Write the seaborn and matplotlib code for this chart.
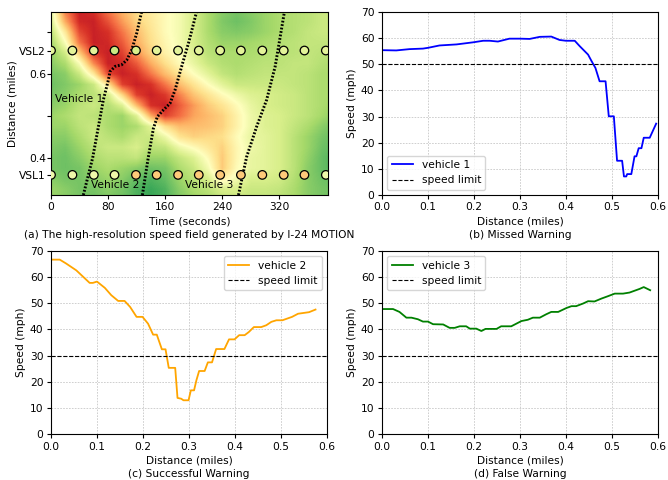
import numpy as np
import pandas as pd
import matplotlib
matplotlib.use("Agg")
import matplotlib.pyplot as plt
import seaborn as sns

# ---------------- data ----------------
# speed field (mph): rows = distance 0.75 -> 0.30 (step 0.025), cols = time 0 -> 400 s (step 20)
field_times = list(range(0, 401, 20))
field_dists = [0.75, 0.725, 0.70, 0.675, 0.65, 0.625, 0.60, 0.575, 0.55, 0.525,
               0.50, 0.475, 0.45, 0.425, 0.40, 0.375, 0.35, 0.325, 0.30]
speed_field = [
    [40, 16, 5, 7, 15, 22, 28, 31, 34, 37, 42, 48, 52, 54, 52, 50, 48, 47, 46, 44, 44],
    [42, 21, 6, 5, 11, 19, 26, 30, 34, 37, 42, 48, 53, 55, 53, 50, 48, 47, 46, 44, 44],
    [46, 30, 10, 5, 7, 15, 23, 29, 34, 37, 42, 48, 52, 53, 52, 50, 48, 47, 45, 44, 44],
    [49, 36, 15, 5, 6, 12, 21, 28, 33, 37, 42, 47, 50, 50, 49, 48, 47, 46, 45, 45, 45],
    [51, 43, 25, 8, 5, 9, 18, 26, 32, 36, 41, 46, 48, 48, 48, 47, 46, 46, 45, 46, 46],
    [52, 48, 36, 17, 5, 6, 12, 21, 28, 34, 39, 44, 47, 48, 47, 46, 46, 45, 45, 47, 48],
    [54, 52, 44, 30, 10, 5, 7, 15, 23, 29, 35, 40, 45, 47, 46, 45, 45, 45, 46, 48, 48],
    [55, 53, 50, 44, 29, 9, 5, 7, 15, 23, 29, 35, 40, 44, 44, 44, 44, 45, 46, 48, 48],
    [54, 52, 48, 46, 43, 27, 9, 5, 8, 16, 24, 29, 34, 38, 41, 42, 43, 44, 46, 48, 48],
    [52, 50, 46, 44, 47, 41, 23, 7, 5, 12, 19, 25, 29, 34, 39, 42, 43, 44, 46, 48, 50],
    [50, 48, 45, 46, 48, 50, 41, 21, 9, 14, 20, 23, 26, 32, 38, 41, 42, 44, 46, 49, 52],
    [50, 50, 46, 44, 48, 50, 48, 40, 28, 23, 23, 24, 26, 32, 38, 41, 42, 45, 48, 52, 55],
    [52, 52, 48, 44, 46, 48, 44, 44, 38, 29, 26, 27, 28, 34, 39, 40, 42, 46, 50, 54, 56],
    [53, 54, 50, 46, 44, 44, 42, 46, 45, 38, 34, 30, 26, 33, 38, 40, 42, 46, 50, 55, 57],
    [54, 55, 52, 48, 46, 46, 45, 50, 50, 45, 41, 34, 25, 33, 39, 40, 42, 46, 51, 56, 58],
    [54, 55, 54, 50, 48, 50, 52, 55, 54, 48, 44, 37, 25, 34, 39, 40, 42, 46, 52, 56, 58],
    [52, 54, 54, 52, 50, 52, 56, 58, 56, 50, 46, 42, 32, 37, 42, 42, 43, 47, 52, 55, 56],
    [50, 52, 54, 54, 52, 54, 58, 60, 58, 52, 48, 46, 42, 42, 44, 44, 45, 48, 52, 54, 55],
    [50, 52, 54, 55, 53, 55, 58, 60, 58, 53, 50, 48, 45, 44, 45, 45, 46, 48, 52, 54, 55],
]

# VSL sign locations and displayed speeds
vsl_times = [0, 30, 60, 89, 119, 148, 178, 207, 237, 266, 296, 326, 355, 385]
vsl1_pos = 0.359
vsl2_pos = 0.656
vsl1_speed = [38, 38, 38, 38, 25, 25, 25, 25, 25, 25, 25, 25, 25, 38]
vsl2_speed = [40, 40, 40, 44, 42, 40, 40, 40, 40, 40, 40, 40, 40, 40]

# vehicle trajectories (time s, distance miles)
traj1_t = [45.3, 58.4, 73.3, 80.4, 82.7, 89.7, 99, 106, 113, 120, 127]
traj1_d = [0.311, 0.4, 0.538, 0.586, 0.606, 0.618, 0.622, 0.633, 0.657, 0.697, 0.749]
traj2_t = [128, 136, 143.4, 149, 157.4, 166.8, 173.8, 183, 192.5, 204]
traj2_d = [0.311, 0.398, 0.47, 0.498, 0.514, 0.53, 0.562, 0.618, 0.673, 0.749]
traj3_t = [262.6, 274, 288, 302, 314, 327]
traj3_d = [0.311, 0.402, 0.474, 0.538, 0.618, 0.749]

# speed profiles
v1_dist = [0.0, 0.031, 0.06, 0.089, 0.1, 0.125, 0.162, 0.198, 0.22, 0.234, 0.252, 0.277, 0.3, 0.321,
           0.343, 0.368, 0.386, 0.4, 0.419, 0.43, 0.448, 0.455, 0.464, 0.473, 0.486, 0.493, 0.504,
           0.511, 0.522, 0.526, 0.531, 0.533, 0.542, 0.549, 0.553, 0.558, 0.564, 0.569, 0.582, 0.596]
v1_speed = [55.4, 55.3, 55.8, 56.0, 56.3, 57.2, 57.6, 58.4, 59.0, 59.0, 58.7, 59.8, 59.8, 59.7,
            60.5, 60.6, 59.3, 59.0, 59.0, 56.9, 53.7, 51.4, 48.6, 43.5, 43.5, 30.1, 30.1,
            13.1, 13.1, 7.1, 7.1, 8.0, 8.0, 14.8, 14.8, 17.9, 17.9, 21.9, 21.9, 27.3]
v2_dist = [0, 0.019, 0.033, 0.055, 0.084, 0.091, 0.1, 0.117, 0.131, 0.146, 0.16, 0.172, 0.186,
           0.199, 0.211, 0.222, 0.23, 0.241, 0.249, 0.256, 0.27, 0.275, 0.283, 0.288, 0.299,
           0.304, 0.311, 0.316, 0.322, 0.334, 0.341, 0.35, 0.359, 0.377, 0.387, 0.399, 0.409,
           0.421, 0.43, 0.441, 0.457, 0.468, 0.479, 0.49, 0.503, 0.524, 0.537, 0.561, 0.575]
v2_speed = [66.7, 66.7, 65.2, 62.6, 57.8, 57.8, 58.3, 55.9, 53.1, 50.9, 50.9, 48.6, 44.8,
            44.8, 42.2, 38.0, 38.0, 32.4, 32.4, 25.3, 25.3, 13.8, 13.5, 12.9, 12.9,
            16.7, 16.7, 20.5, 24.1, 24.1, 27.4, 27.4, 32.5, 32.5, 36.2, 36.2, 37.8,
            37.8, 39.0, 40.9, 40.9, 41.6, 42.9, 43.5, 43.5, 44.8, 46.0, 46.6, 47.6]
v3_dist = [0, 0.024, 0.038, 0.053, 0.064, 0.078, 0.089, 0.1, 0.111, 0.133, 0.147, 0.158, 0.169,
           0.183, 0.191, 0.205, 0.216, 0.225, 0.249, 0.259, 0.281, 0.292, 0.303, 0.317, 0.328,
           0.343, 0.357, 0.368, 0.383, 0.401, 0.412, 0.422, 0.437, 0.448, 0.462, 0.477, 0.491,
           0.506, 0.524, 0.538, 0.56, 0.569, 0.583]
v3_speed = [47.8, 47.8, 46.7, 44.5, 44.5, 43.9, 43.0, 43.0, 42.0, 41.9, 40.6, 40.6, 41.2,
            41.2, 40.3, 40.3, 39.4, 40.2, 40.2, 41.2, 41.2, 42.2, 43.2, 43.7, 44.5,
            44.5, 45.8, 46.7, 46.7, 48.2, 48.9, 48.9, 49.9, 50.8, 50.7, 51.8, 52.7,
            53.7, 53.7, 54.1, 55.5, 56.2, 55.0]
speed_limits = [50, 30, 30]

captions = ["(a) The high-resolution speed field generated by I-24 MOTION",
            "(b) Missed Warning", "(c) Successful Warning", "(d) False Warning"]

# ---------------- style ----------------
FS = 7.7
plt.rcParams["font.family"] = ["DejaVu Sans"]
plt.rcParams["font.size"] = FS
plt.rcParams["axes.linewidth"] = 0.8
plt.rcParams["xtick.major.width"] = 0.8
plt.rcParams["ytick.major.width"] = 0.8
plt.rcParams["xtick.major.size"] = 2.7
plt.rcParams["ytick.major.size"] = 2.7
plt.rcParams["xtick.major.pad"] = 2.7
plt.rcParams["ytick.major.pad"] = 2.7
plt.rcParams["axes.labelpad"] = 3.0

W, H = 668, 480
fig = plt.figure(figsize=(W / 100, H / 100), dpi=100)

def add_ax(l, r, t, b):
    return fig.add_axes([l / W, 1 - b / H, (r - l) / W, (b - t) / H])

axa = add_ax(51, 328, 12, 195)
axb = add_ax(382, 658, 12, 195)
axc = add_ax(51, 327, 251, 434)
axd = add_ax(382, 658, 251, 434)

cmap = plt.get_cmap("RdYlGn")
vmin, vmax = 0, 70

# ---------------- (a) speed field ----------------
field = np.array(speed_field, dtype=float)
dt = field_times[1] - field_times[0]
dd = field_dists[0] - field_dists[1]
axa.imshow(field, cmap=cmap, vmin=vmin, vmax=vmax, aspect="auto", origin="upper",
           interpolation="bilinear",
           extent=[field_times[0] - dt / 2, field_times[-1] + dt / 2,
                   field_dists[-1] - dd / 2, field_dists[0] + dd / 2])

for tt, dd_ in [(traj1_t, traj1_d), (traj2_t, traj2_d), (traj3_t, traj3_d)]:
    df = pd.DataFrame({"t": tt, "d": dd_})
    sns.lineplot(data=df, x="t", y="d", ax=axa, sort=False, estimator=None,
                 color="black", linewidth=2.1, linestyle=(0, (0.6, 0.6)))

for pos, spd in [(vsl2_pos, vsl2_speed), (vsl1_pos, vsl1_speed)]:
    df = pd.DataFrame({"t": vsl_times, "d": [pos] * len(vsl_times), "s": spd})
    cols = [cmap((s - vmin) / (vmax - vmin)) for s in spd]
    sns.scatterplot(data=df, x="t", y="d", ax=axa, c=cols, s=38,
                    edgecolor="black", linewidth=0.9, zorder=5, legend=False)

axa.text(5, 0.54, "Vehicle 1", fontsize=FS, va="center", ha="left")
axa.text(56, 0.336, "Vehicle 2", fontsize=FS, va="center", ha="left")
axa.text(187, 0.336, "Vehicle 3", fontsize=FS, va="center", ha="left")

axa.set_xlim(0, 388)
axa.set_ylim(0.311, 0.748)
axa.set_xticks([0, 80, 160, 240, 320])
axa.set_yticks([vsl1_pos, 0.4, 0.5, 0.6, vsl2_pos, 0.7])
axa.set_yticklabels(["VSL1", "0.4", "", "0.6", "VSL2", ""])
axa.tick_params(axis="y", pad=0.8)
axa.set_xlabel("Time (seconds)\n" + captions[0], linespacing=1.4)
axa.set_ylabel("Distance (miles)", labelpad=1.5)

# ---------------- (b)(c)(d) speed profiles ----------------
profiles = [
    (axb, v1_dist, v1_speed, "vehicle 1", "blue", "lower left"),
    (axc, v2_dist, v2_speed, "vehicle 2", "orange", "upper right"),
    (axd, v3_dist, v3_speed, "vehicle 3", "green", "upper left"),
]
for i, (ax, xs, ys, lab, col, loc) in enumerate(profiles):
    df = pd.DataFrame({"dist": xs, "speed": ys})
    sns.lineplot(data=df, x="dist", y="speed", ax=ax, sort=False, estimator=None,
                 color=col, linewidth=1.3, label=lab)
    ax.axhline(speed_limits[i], color="black", linestyle="--", linewidth=0.8,
               label="speed limit")
    ax.set_xlim(0, 0.6)
    ax.set_ylim(0, 70)
    ax.set_xticks([0.0, 0.1, 0.2, 0.3, 0.4, 0.5, 0.6])
    ax.set_yticks(range(0, 71, 10))
    ax.grid(True, color="#c8c8c8", linestyle=(0, (2, 1.5)), linewidth=0.6)
    ax.set_axisbelow(True)
    ax.set_xlabel("Distance (miles)\n" + captions[i + 1], linespacing=1.4)
    ax.set_ylabel("Speed (mph)")
    ax.legend(loc=loc, fontsize=FS, frameon=True)

fig.savefig("out.png", dpi=100)
